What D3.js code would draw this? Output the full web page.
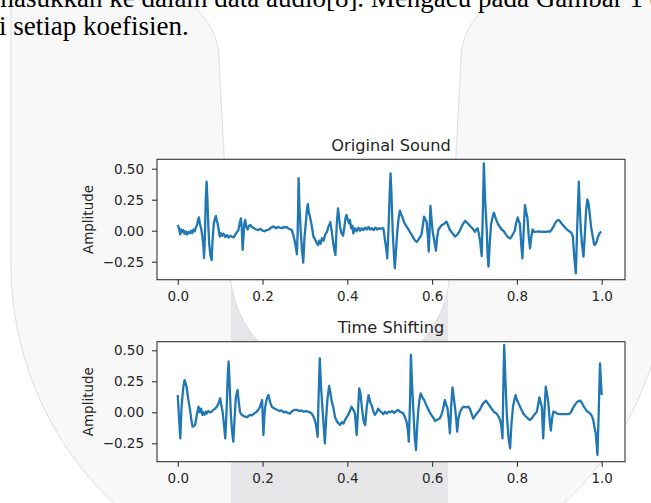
<!DOCTYPE html>
<html>
<head>
<meta charset="utf-8">
<script src="https://cdn.jsdelivr.net/npm/d3@7"></script>
<style>
  body { margin: 0; background: #fff; }
  svg { display: block; }
</style>
</head>
<body>
<script>
// page text around the figure
var pageLines = ["masukkan ke dalam data audio[8]. Mengacu pada Gambar 1 di", "ri setiap koefisien."];

// waveform samples (time, amplitude)
var origT = [0.000,0.002,0.004,0.006,0.008,0.010,0.013,0.016,0.019,0.022,0.025,0.028,0.031,0.034,0.037,0.040,0.043,0.046,0.048,0.050,
  0.052,0.055,0.057,0.060,0.062,0.064,0.066,0.068,0.070,0.072,0.074,0.077,0.080,0.082,0.085,0.088,0.090,0.092,0.094,0.096,
  0.099,0.102,0.105,0.108,0.112,0.116,0.120,0.124,0.128,0.132,0.136,0.140,0.143,0.146,0.149,0.151,0.153,0.155,0.157,0.159,
  0.162,0.165,0.168,0.171,0.175,0.180,0.185,0.190,0.195,0.200,0.205,0.210,0.215,0.220,0.226,0.232,0.237,0.241,0.246,0.250,
  0.254,0.257,0.262,0.266,0.269,0.273,0.277,0.281,0.283,0.285,0.287,0.290,0.293,0.296,0.299,0.302,0.305,0.307,0.309,0.312,
  0.316,0.320,0.324,0.328,0.331,0.334,0.337,0.340,0.344,0.348,0.352,0.355,0.358,0.360,0.363,0.366,0.369,0.372,0.375,0.378,
  0.380,0.383,0.386,0.390,0.393,0.396,0.398,0.401,0.404,0.406,0.409,0.412,0.414,0.418,0.422,0.426,0.430,0.434,0.438,0.442,
  0.446,0.450,0.454,0.458,0.462,0.466,0.470,0.474,0.478,0.482,0.485,0.487,0.489,0.492,0.494,0.497,0.500,0.502,0.504,0.507,
  0.510,0.512,0.515,0.518,0.521,0.524,0.527,0.530,0.535,0.540,0.546,0.552,0.556,0.560,0.564,0.568,0.572,0.575,0.578,0.581,
  0.584,0.587,0.590,0.592,0.594,0.596,0.598,0.601,0.605,0.609,0.612,0.615,0.619,0.623,0.628,0.634,0.638,0.642,0.648,0.654,
  0.660,0.666,0.672,0.678,0.684,0.689,0.695,0.701,0.704,0.707,0.710,0.713,0.717,0.720,0.722,0.725,0.729,0.731,0.733,0.736,
  0.739,0.741,0.744,0.746,0.749,0.752,0.756,0.760,0.764,0.768,0.772,0.776,0.780,0.784,0.788,0.792,0.795,0.798,0.802,0.805,
  0.807,0.810,0.813,0.816,0.819,0.822,0.825,0.828,0.831,0.834,0.837,0.841,0.846,0.852,0.858,0.862,0.868,0.874,0.878,0.882,
  0.886,0.890,0.894,0.898,0.902,0.906,0.910,0.915,0.920,0.925,0.929,0.932,0.935,0.939,0.942,0.946,0.948,0.951,0.954,0.957,
  0.960,0.963,0.966,0.969,0.972,0.975,0.979,0.982,0.984,0.988,0.991,0.995,0.999];
var origV = [0.046,0.030,0.000,-0.030,0.010,-0.010,0.005,-0.025,-0.005,-0.030,-0.010,-0.020,0.000,-0.020,0.010,-0.005,0.030,0.050,0.090,0.108,
  0.060,0.020,-0.020,-0.100,-0.220,-0.050,0.250,0.396,0.250,0.050,-0.100,-0.200,-0.236,-0.080,0.060,0.100,0.120,0.080,0.060,0.020,
  -0.047,-0.020,-0.040,-0.025,-0.050,-0.035,-0.055,-0.040,-0.050,-0.054,-0.030,-0.010,0.005,0.060,0.100,0.020,-0.155,-0.050,0.060,0.087,
  0.030,0.010,0.040,0.046,0.030,0.020,0.010,0.005,0.015,0.000,-0.005,0.005,0.010,0.025,0.035,0.020,0.030,0.025,0.020,0.030,
  0.025,0.030,0.015,0.010,0.005,-0.040,-0.100,-0.190,0.000,0.424,0.200,0.000,-0.150,-0.258,-0.050,0.060,0.180,0.215,0.150,0.110,
  0.040,-0.047,-0.070,-0.100,-0.115,-0.080,-0.105,-0.060,-0.080,-0.030,-0.010,0.030,0.050,0.070,0.000,-0.080,-0.150,-0.195,0.050,0.180,
  0.120,0.030,-0.020,-0.040,0.030,0.110,0.127,0.090,0.060,0.087,0.020,0.040,-0.021,0.020,-0.005,0.025,0.000,0.020,0.005,0.025,
  0.010,0.030,0.010,0.020,0.005,0.025,0.010,0.020,0.015,0.020,0.019,-0.030,-0.080,-0.150,-0.223,0.000,0.300,0.462,0.300,0.000,
  -0.200,-0.303,-0.150,0.000,0.100,0.162,0.130,0.108,0.060,0.033,0.000,-0.035,-0.060,-0.080,-0.089,-0.070,-0.050,-0.030,0.040,0.113,
  0.090,0.073,-0.050,-0.169,0.000,0.200,0.120,0.000,-0.080,-0.161,-0.050,0.010,0.030,0.046,0.055,0.073,0.040,0.005,-0.020,-0.048,
  -0.030,0.005,0.050,0.080,0.060,0.040,0.020,-0.008,0.010,0.020,-0.020,-0.080,-0.204,0.200,0.543,0.250,0.000,-0.200,-0.290,-0.100,
  0.050,0.080,0.130,0.145,0.110,0.080,0.050,0.030,0.010,0.000,-0.020,-0.040,-0.055,-0.062,-0.045,-0.020,0.000,0.060,0.108,0.070,
  0.060,-0.100,-0.223,0.000,0.207,0.150,0.100,-0.050,-0.142,-0.050,0.010,-0.010,-0.008,-0.005,-0.010,-0.008,-0.010,-0.005,-0.008,0.010,
  0.030,0.060,0.080,0.087,0.075,0.055,0.040,0.020,0.005,-0.008,-0.020,-0.048,-0.200,-0.344,0.000,0.395,0.200,0.000,-0.120,-0.209,
  -0.050,0.150,0.253,0.220,0.130,0.030,-0.050,-0.110,-0.115,-0.090,-0.050,-0.020,-0.008];

var shiftT = [0.000,0.003,0.006,0.009,0.013,0.016,0.019,0.021,0.025,0.029,0.032,0.035,0.038,0.041,0.045,0.049,0.052,0.055,0.058,0.060,
  0.063,0.066,0.068,0.072,0.076,0.080,0.084,0.088,0.092,0.096,0.100,0.103,0.106,0.109,0.112,0.115,0.118,0.120,0.122,0.125,
  0.128,0.131,0.134,0.137,0.141,0.144,0.147,0.151,0.155,0.159,0.163,0.167,0.171,0.175,0.180,0.185,0.190,0.194,0.197,0.199,
  0.200,0.202,0.204,0.206,0.210,0.214,0.218,0.222,0.228,0.234,0.240,0.245,0.250,0.255,0.260,0.265,0.270,0.276,0.281,0.286,
  0.292,0.297,0.302,0.307,0.312,0.316,0.320,0.323,0.326,0.330,0.332,0.335,0.338,0.342,0.345,0.347,0.350,0.353,0.357,0.360,
  0.363,0.367,0.371,0.375,0.379,0.383,0.387,0.391,0.395,0.398,0.402,0.406,0.410,0.414,0.418,0.422,0.425,0.428,0.431,0.434,
  0.436,0.439,0.442,0.446,0.450,0.454,0.458,0.462,0.465,0.469,0.473,0.477,0.481,0.485,0.489,0.493,0.497,0.501,0.506,0.510,
  0.515,0.520,0.524,0.528,0.532,0.536,0.540,0.543,0.545,0.548,0.550,0.553,0.556,0.559,0.562,0.565,0.567,0.570,0.573,0.577,
  0.581,0.586,0.590,0.595,0.600,0.604,0.607,0.612,0.618,0.622,0.626,0.630,0.633,0.636,0.639,0.642,0.645,0.648,0.651,0.654,
  0.657,0.659,0.662,0.666,0.670,0.674,0.680,0.686,0.690,0.694,0.697,0.701,0.705,0.709,0.714,0.720,0.727,0.732,0.737,0.742,
  0.747,0.752,0.756,0.760,0.763,0.766,0.768,0.770,0.773,0.776,0.780,0.784,0.787,0.791,0.794,0.797,0.800,0.803,0.808,0.815,
  0.820,0.826,0.831,0.836,0.841,0.847,0.850,0.853,0.856,0.859,0.862,0.865,0.868,0.871,0.874,0.877,0.880,0.883,0.886,0.890,
  0.895,0.900,0.909,0.918,0.925,0.929,0.933,0.937,0.941,0.945,0.949,0.953,0.957,0.961,0.965,0.969,0.973,0.977,0.980,0.983,
  0.986,0.990,0.993,0.996,1.000];
var shiftV = [0.140,-0.050,-0.210,0.050,0.200,0.260,0.230,0.200,0.100,0.018,-0.060,-0.116,-0.110,-0.100,-0.020,0.045,0.000,0.030,-0.020,0.000,
  -0.020,0.005,-0.010,0.010,0.000,0.005,0.020,0.030,0.045,0.070,0.113,0.050,0.000,-0.100,-0.210,0.000,0.300,0.410,0.250,0.000,
  -0.150,-0.237,-0.050,0.120,0.180,0.080,0.000,-0.020,-0.030,-0.035,-0.040,-0.030,-0.020,-0.025,-0.010,0.000,0.020,0.045,0.080,0.099,
  0.000,-0.183,-0.050,0.040,0.110,0.139,0.080,0.045,0.030,0.020,0.010,0.015,0.000,0.005,-0.005,-0.010,0.010,0.020,0.020,0.010,
  0.015,0.005,0.010,0.005,0.000,-0.010,-0.035,-0.060,-0.100,-0.197,0.100,0.435,0.200,0.000,-0.150,-0.250,-0.050,0.100,0.212,0.160,
  0.090,0.040,-0.040,-0.070,-0.090,-0.102,-0.080,-0.090,-0.060,-0.040,-0.020,0.010,0.045,0.020,-0.010,-0.183,0.000,0.193,0.150,0.050,
  -0.010,-0.080,-0.103,0.050,0.139,0.080,0.050,0.000,-0.020,0.000,0.030,0.010,0.000,-0.015,0.005,-0.010,0.005,0.000,0.010,-0.005,
  0.010,0.020,0.005,0.000,-0.010,-0.040,-0.080,-0.150,-0.236,0.100,0.462,0.200,0.000,-0.200,-0.304,-0.100,0.000,0.100,0.153,0.120,
  0.100,0.060,0.030,-0.004,-0.030,-0.050,-0.070,-0.060,-0.050,-0.020,0.030,0.099,0.060,0.040,-0.050,-0.169,0.050,0.200,0.120,0.040,
  -0.060,-0.156,-0.050,0.005,0.030,0.045,0.040,0.045,0.020,-0.020,-0.050,-0.030,-0.010,0.005,0.030,0.070,0.094,0.070,0.045,0.020,
  0.000,-0.010,-0.030,-0.060,-0.100,-0.210,0.200,0.543,0.250,0.000,-0.200,-0.290,-0.100,0.050,0.100,0.139,0.100,0.080,0.040,-0.010,
  -0.030,-0.050,-0.062,-0.045,-0.020,0.005,0.060,0.121,0.080,0.040,-0.210,0.000,0.206,0.150,0.080,-0.050,-0.148,-0.050,0.005,0.000,
  -0.010,-0.015,-0.014,-0.015,-0.010,0.010,0.040,0.060,0.080,0.090,0.094,0.080,0.050,0.030,0.010,0.000,-0.010,-0.030,-0.060,-0.120,
  -0.169,-0.344,0.000,0.395,0.139];

var xTicks = [0, 0.2, 0.4, 0.6, 0.8, 1.0];
var yTicks = [-0.25, 0, 0.25, 0.5];
var titles = ["Original Sound", "Time Shifting"];

var W = 651, H = 503;
var svg = d3.select("body").append("svg")
  .attr("width", W)
  .attr("height", H);

// faint watermark behind the figure
var defs = svg.append("defs");
var outerU = "M11,-20 L11,265 A328,328 0 0 0 667,265 L667,-20 Z";
defs.append("clipPath").attr("id", "uclip").append("path").attr("d", outerU);

svg.append("path").attr("d", outerU)
  .attr("fill", "#f8f8f8").attr("stroke", "#d6d6d6").attr("stroke-width", 0.8);
svg.append("rect")
  .attr("x", 231).attr("y", 260).attr("width", 217).attr("height", 260)
  .attr("fill", "#e6e6e8").attr("clip-path", "url(#uclip)");
svg.append("path")
  .attr("d", "M151,-8 A68,68 0 0 1 219,60 L230,268 A110,110 0 0 0 450,268 L461,60 A68,68 0 0 1 529,-8 Z")
  .attr("fill", "#fff").attr("stroke", "#d6d6d6").attr("stroke-width", 0.8);

// page text
svg.append("text").attr("x", -7).attr("y", 6.5)
  .attr("font-family", "Liberation Serif").attr("font-size", 27)
  .attr("fill", "#000").text(pageLines[0]);
svg.append("text").attr("x", -10).attr("y", 35)
  .attr("font-family", "Liberation Serif").attr("font-size", 27)
  .attr("fill", "#000").text(pageLines[1]);

var panels = [
  {top: 159.3, bottom: 279.7, domain: [-0.395, 0.576], t: origT, v: origV, title: titles[0]},
  {top: 341.7, bottom: 461.7, domain: [-0.398, 0.569], t: shiftT, v: shiftV, title: titles[1]}
];
var left = 157, right = 625;

var x = d3.scaleLinear().domain([-0.049, 1.055]).range([left, right]);

panels.forEach(function(p) {
  var y = d3.scaleLinear().domain(p.domain).range([p.bottom, p.top]);
  var g = svg.append("g");

  g.append("rect")
    .attr("x", left).attr("y", p.top)
    .attr("width", right - left).attr("height", p.bottom - p.top)
    .attr("fill", "#fff");

  var pts = p.t.map(function(t, i) { return [t, p.v[i]]; });
  var line = d3.line().x(function(d) { return x(d[0]); }).y(function(d) { return y(d[1]); });
  g.append("path").datum(pts)
    .attr("d", line)
    .attr("fill", "none")
    .attr("stroke", "#1f77b4")
    .attr("stroke-width", 2.3)
    .attr("stroke-linejoin", "round");

  var xa = g.append("g").attr("transform", "translate(0," + p.bottom + ")")
    .call(d3.axisBottom(x).tickValues(xTicks).tickFormat(d3.format(".1f")).tickSize(5).tickPadding(7));
  var ya = g.append("g").attr("transform", "translate(" + left + ",0)")
    .call(d3.axisLeft(y).tickValues(yTicks).tickFormat(d3.format(".2f")).tickSize(5).tickPadding(8));
  [xa, ya].forEach(function(a) {
    a.select(".domain").remove();
    a.selectAll("line").attr("stroke", "#333").attr("stroke-width", 1.1);
    a.selectAll("text").attr("font-family", "DejaVu Sans").attr("font-size", 13.5).attr("fill", "#262626");
  });

  g.append("rect")
    .attr("x", left).attr("y", p.top)
    .attr("width", right - left).attr("height", p.bottom - p.top)
    .attr("fill", "none").attr("stroke", "#333").attr("stroke-width", 1.1);

  g.append("text")
    .attr("x", (left + right) / 2).attr("y", p.top - 8.3)
    .attr("text-anchor", "middle")
    .attr("font-family", "DejaVu Sans").attr("font-size", 16.2).attr("fill", "#262626")
    .text(p.title);

  g.append("text")
    .attr("transform", "translate(92.5," + ((p.top + p.bottom) / 2) + ") rotate(-90)")
    .attr("text-anchor", "middle")
    .attr("font-family", "DejaVu Sans").attr("font-size", 13.5).attr("fill", "#262626")
    .text("Amplitude");
});
</script>
</body>
</html>
